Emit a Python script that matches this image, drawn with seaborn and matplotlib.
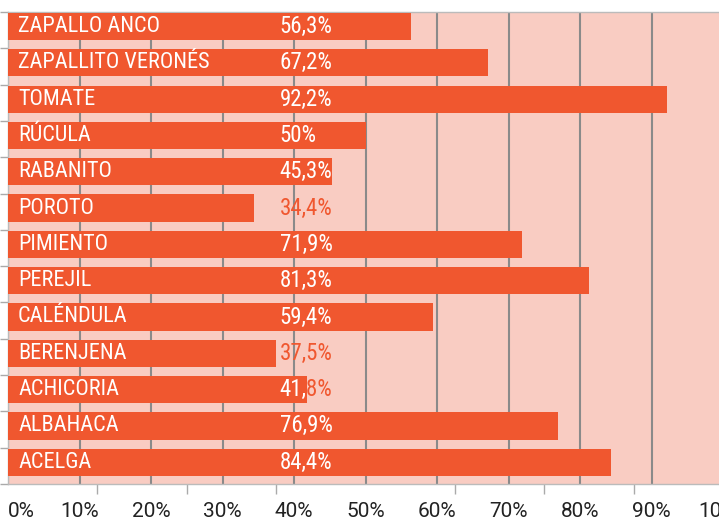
import matplotlib
matplotlib.use("Agg")
import matplotlib.pyplot as plt
from matplotlib import font_manager
from matplotlib.ticker import FixedLocator
import seaborn as sns
import pandas as pd
import numpy as np

# ---- data ----
categories = ["ZAPALLO ANCO", "ZAPALLITO VERONÉS", "TOMATE", "RÚCULA", "RABANITO",
              "POROTO", "PIMIENTO", "PEREJIL", "CALÉNDULA", "BERENJENA",
              "ACHICORIA", "ALBAHACA", "ACELGA"]
values = [56.3, 67.2, 92.2, 50, 45.3, 34.4, 71.9, 81.3, 59.4, 37.5, 41.8, 76.9, 84.4]
value_labels = ["56,3%", "67,2%", "92,2%", "50%", "45,3%", "34,4%", "71,9%",
                "81,3%", "59,4%", "37,5%", "41,8%", "76,9%", "84,4%"]
x_ticks = [0, 10, 20, 30, 40, 50, 60, 70, 80, 90, 100]
x_tick_labels = ["0%", "10%", "20%", "30%", "40%", "50%", "60%", "70%", "80%", "90%", "100%"]

BAR = "#f0572f"
PINK = "#f9ccc2"
GRID = "#8a8a8a"

sns.set_theme(style="white")
names = {f.name for f in font_manager.fontManager.ttflist}
cond = None
for cand in ["Roboto Condensed", "Liberation Sans Narrow", "Open Sans Condensed"]:
    if cand in names:
        cond = cand
        break
base_font = "Roboto" if "Roboto" in names else "DejaVu Sans"
plt.rcParams["font.family"] = [base_font, "DejaVu Sans"]
if cond is not None:
    lab_font, cat_size, val_size = cond, 16, 16.5
else:
    lab_font, cat_size, val_size = base_font, 14.3, 14.6

df = pd.DataFrame({"cat": categories, "val": values})

fig = plt.figure(figsize=(7.19, 5.22), dpi=100)
ax = fig.add_axes([8 / 719, 38 / 522, 715 / 719, 472 / 522])
ax.set_facecolor(PINK)

sns.barplot(data=df, x="val", y="cat", orient="h", color=BAR, saturation=1,
            width=0.75, linewidth=0, edgecolor=BAR, ax=ax, zorder=3)

ax.set_xlim(0, 100)
ax.set_ylim(12.6, -0.4)
ax.set_xlabel("")
ax.set_ylabel("")

# x axis: labels at 10% steps, tick marks at 12.5% steps
ax.set_xticks(x_ticks, labels=x_tick_labels)
ax.xaxis.set_minor_locator(FixedLocator([0, 12.5, 25, 37.5, 50, 62.5, 75, 87.5, 100]))
ax.tick_params(axis="x", which="major", length=0, pad=13, labelsize=15, labelcolor="#222222")
ax.tick_params(axis="x", which="minor", length=7, width=1, color="#aaaaaa", bottom=True)
ax.xaxis.grid(True, which="major", color=GRID, linewidth=1.5, zorder=1)
ax.set_axisbelow(True)

# y axis: tick marks at category boundaries
bounds = [i - 0.4 for i in range(len(categories) + 1)]
ax.set_yticks(bounds, labels=[""] * len(bounds))
ax.tick_params(axis="y", which="major", length=6, width=1, color="#aaaaaa", left=True)

for side in ["top", "bottom", "left"]:
    ax.spines[side].set_color("#bbbbbb")
    ax.spines[side].set_linewidth(1)
ax.spines["right"].set_visible(False)

lbls = ax.get_xticklabels()
lbls[0].set_horizontalalignment("left")

bars = list(ax.patches)
for i, (cat, v, lab) in enumerate(zip(categories, values, value_labels)):
    ax.text(1.4, i, cat, color="white", fontsize=cat_size, family=[lab_font, "DejaVu Sans"],
            va="center", ha="left", zorder=5)
    ax.text(38.0, i, lab, color=BAR, fontsize=val_size, family=[lab_font, "DejaVu Sans"],
            va="center", ha="left", zorder=5)
    t = ax.text(38.0, i, lab, color="white", fontsize=val_size, family=[lab_font, "DejaVu Sans"],
                va="center", ha="left", zorder=6)
    t.set_clip_on(True)
    t.set_clip_path(bars[i])

fig.savefig("out.png", dpi=100)
